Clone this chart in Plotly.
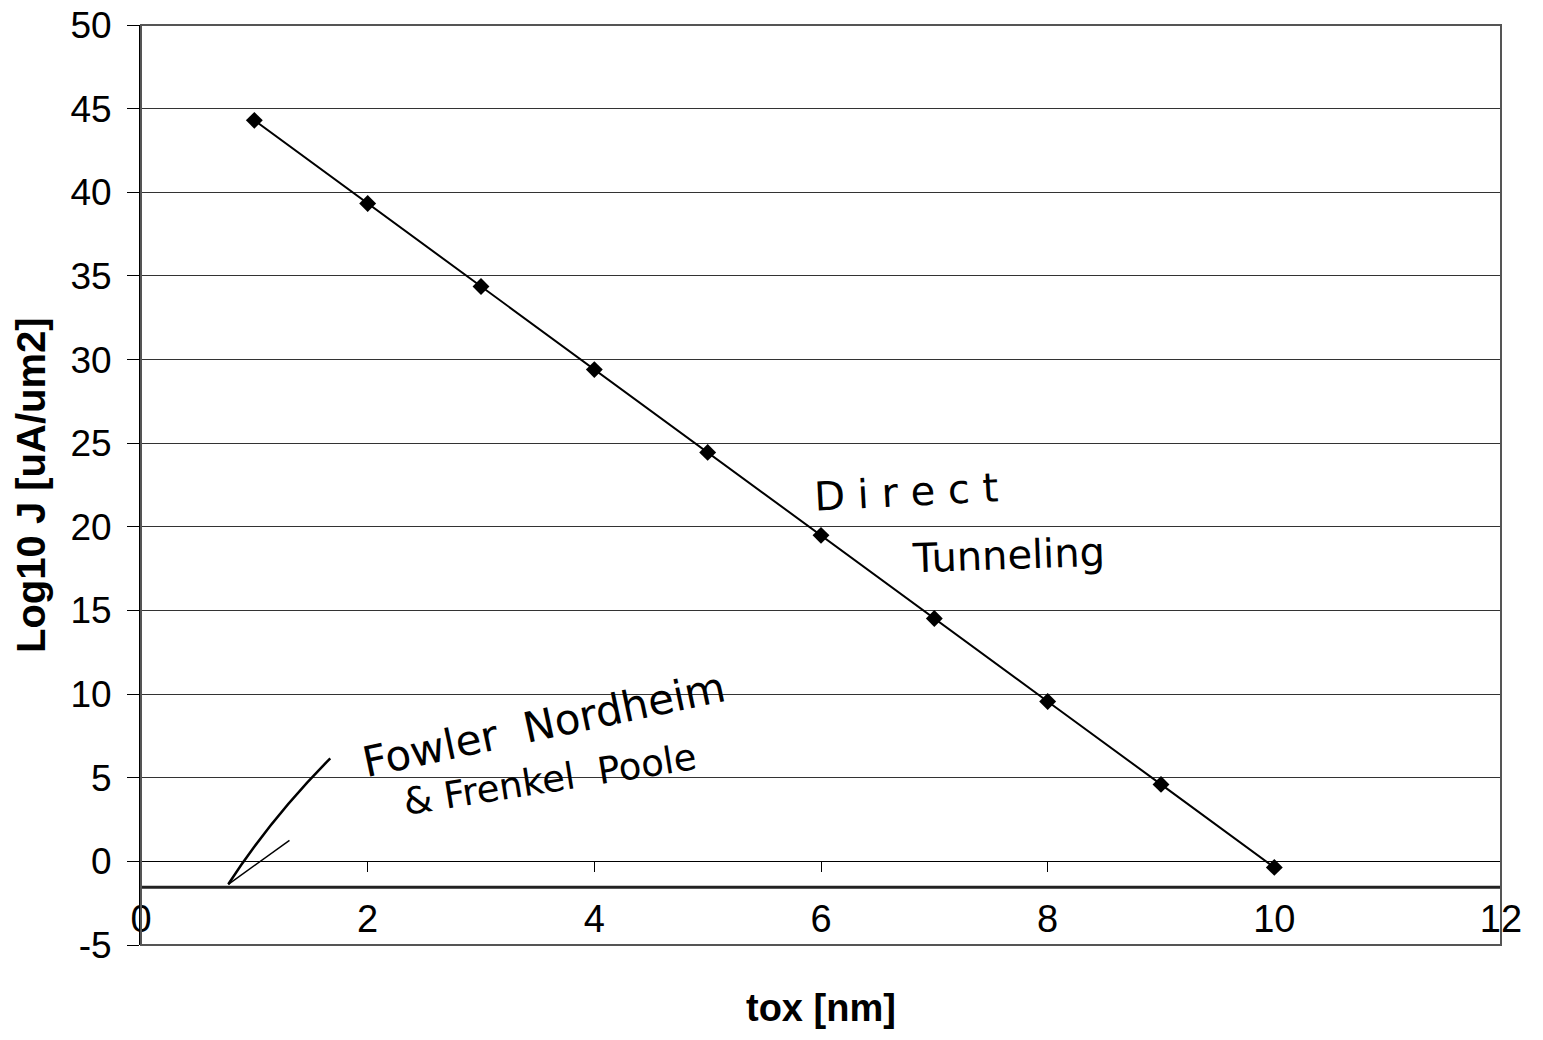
import plotly.graph_objects as go

# Data
tox_nm = [1, 2, 3, 4, 5, 6, 7, 8, 9, 10]
log10_j = [44.3, 39.33, 34.37, 29.4, 24.45, 19.49, 14.52, 9.56, 4.6, -0.36]

x_ticks = [0, 2, 4, 6, 8, 10, 12]
y_ticks = [-5, 0, 5, 10, 15, 20, 25, 30, 35, 40, 45, 50]
y_tick_text = ["-5", "0", "5", "10", "15", "20", "25", "30", "35", "40", "45", "50"]

# hand-drawn annotation elements (data coords)
hand_baseline_y = -1.55
arrow_main = [(1.67, 6.16), (1.15, 2.6), (0.77, -1.37)]
arrow_tip_back = [(0.77, -1.37), (1.31, 1.25)]

# page offset compensation (browser body margin)
OFF = 8
W, H = 1543 - 2 * OFF, 1040 - 2 * OFF
L, R, T, B = 141 - OFF, 1543 - 1501 - OFF, 25 - OFF, 1040 - 945 - OFF
plot_w = W - L - R
plot_h = H - T - B

fig = go.Figure()

fig.add_trace(go.Scatter(
    x=tox_nm, y=log10_j, mode="lines+markers",
    line=dict(color="black", width=2),
    marker=dict(symbol="diamond", size=13, color="black"),
    showlegend=False,
))

hand_font = dict(family="DejaVu Sans", size=38, color="black")

fig.add_annotation(x=6.75, y=22.1, text="D i r e c t", showarrow=False,
                   font=dict(hand_font, size=40), textangle=-3)
fig.add_annotation(x=7.65, y=18.3, text="Tunneling", showarrow=False,
                   font=dict(hand_font, size=40), textangle=-2)
fig.add_annotation(x=3.56, y=8.2, text="Fowler  Nordheim", showarrow=False,
                   font=dict(hand_font, size=42), textangle=-12)
fig.add_annotation(x=3.61, y=4.9, text="&amp; Frenkel  Poole", showarrow=False,
                   font=dict(hand_font, size=37), textangle=-9)

# hand line
fig.add_shape(type="line", x0=0, x1=12, y0=hand_baseline_y, y1=hand_baseline_y,
              xref="x", yref="y", line=dict(color="#222", width=3))
(p0x, p0y), (c1x, c1y), (p1x, p1y) = arrow_main
fig.add_shape(type="path", path=f"M {p0x},{p0y} Q {c1x},{c1y} {p1x},{p1y}",
              xref="x", yref="y", line=dict(color="black", width=2.5))
fig.add_shape(type="line", x0=arrow_tip_back[0][0], y0=arrow_tip_back[0][1],
              x1=arrow_tip_back[1][0], y1=arrow_tip_back[1][1],
              xref="x", yref="y", line=dict(color="black", width=1.5))

# plot border
fig.add_shape(type="rect", x0=0, x1=1, y0=0, y1=1, xref="paper", yref="paper",
              line=dict(color="#555", width=2), layer="above")

fig.update_layout(
    width=W, height=H,
    margin=dict(l=L, r=R, t=T, b=B),
    paper_bgcolor="white", plot_bgcolor="white",
    font=dict(family="Liberation Sans, Arial", color="black"),
    xaxis=dict(
        range=[0, 12], tickvals=x_ticks, ticktext=[str(v) for v in x_ticks],
        anchor="free", position=5 / 55,
        showline=True, linecolor="black", linewidth=1,
        ticks="outside", ticklen=10, tickcolor="black",
        ticklabelstandoff=14,
        showgrid=False, zeroline=False,
        tickfont=dict(size=38),
        automargin=False,
    ),
    yaxis=dict(
        range=[-5, 50.0001], tickvals=y_ticks, ticktext=y_tick_text,
        showline=True, linecolor="black", linewidth=2,
        ticks="outside", ticklen=12, tickcolor="black",
        showgrid=True, gridcolor="#333", gridwidth=1,
        zeroline=False,
        tickfont=dict(size=37),
        ticklabelstandoff=8,
        ticklabeloverflow="allow",
        automargin=False,
    ),
)

fig.add_annotation(x=(31 - 141) / plot_w, y=0.5, xref="paper", yref="paper",
                   text="<b>Log10 J [uA/um2]</b>", showarrow=False, textangle=-90,
                   font=dict(size=40), xanchor="center", yanchor="middle")
fig.add_annotation(x=0.5, y=-(1008 - 945) / plot_h, xref="paper", yref="paper",
                   text="<b>tox [nm]</b>", showarrow=False,
                   font=dict(size=38), xanchor="center", yanchor="middle")

fig.write_html("out.html")
